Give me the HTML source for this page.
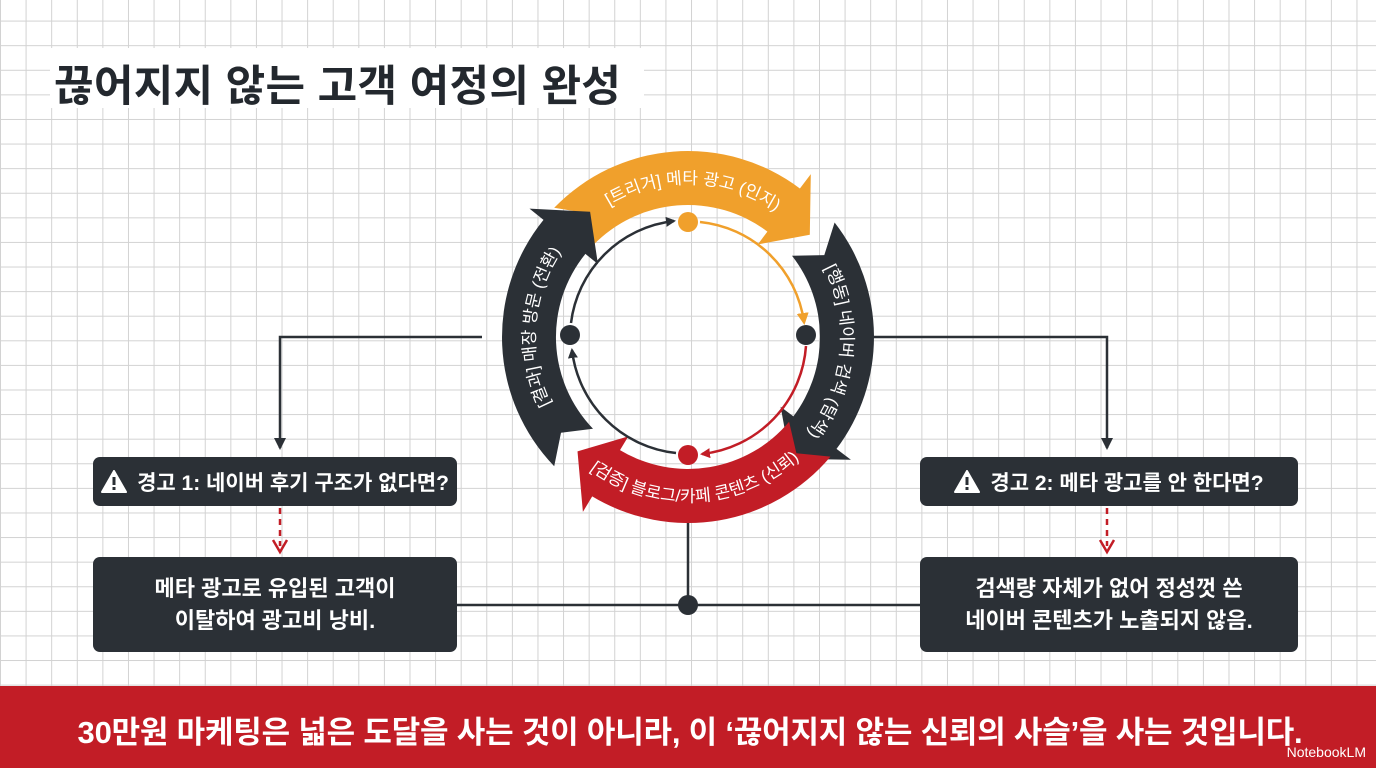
<!DOCTYPE html>
<html><head><meta charset="utf-8">
<style>
html,body{margin:0;padding:0;}
body{width:1376px;height:768px;overflow:hidden;position:relative;font-family:"Liberation Sans","Noto Sans CJK KR",sans-serif;
background-color:#fff;
background-image:linear-gradient(to right,#d2d2d2 1px,transparent 1px),linear-gradient(to bottom,#d2d2d2 1px,transparent 1px);
background-size:25.6px 24.6px;background-position:0px -4px;}
.title{position:absolute;left:50px;top:48px;width:594px;height:60px;background:#fff;}
.title span{position:absolute;left:4px;top:4px;font-size:43px;font-weight:bold;color:#23282e;white-space:nowrap;letter-spacing:0.3px}
.box{position:absolute;background:#2b3036;border-radius:7px;color:#fff;font-weight:bold;display:flex;align-items:center;justify-content:center;text-align:center;}
.warn{font-size:21px;height:49px;}
.warn svg{position:static;margin-right:10px}
.res{font-size:22px;height:95px;line-height:32px;}
.banner{position:absolute;left:0;top:686px;width:1376px;height:82px;background:#c21d26;color:#fff;font-weight:bold;font-size:31px;}
.banner .t{position:absolute;left:0;width:1380px;top:21px;text-align:center;letter-spacing:-0.2px;white-space:nowrap}
.nb{position:absolute;right:10px;bottom:8px;font-size:14px;font-weight:normal;}
svg{position:absolute;left:0;top:0;}
</style></head><body>
<div class="title"><span>끊어지지 않는 고객 여정의 완성</span></div>

<svg id="s" width="1376" height="768" viewBox="0 0 1376 768">
<defs>
<marker id="ad" markerWidth="10" markerHeight="10" refX="8" refY="5" orient="auto" markerUnits="userSpaceOnUse"><path d="M0,0 L10,5 L0,10 Z" fill="#2b3036"/></marker>
<marker id="ar" markerWidth="10" markerHeight="10" refX="8" refY="5" orient="auto" markerUnits="userSpaceOnUse"><path d="M0,0 L10,5 L0,10 Z" fill="#c21d26"/></marker>
<marker id="ao" markerWidth="12" markerHeight="12" refX="9" refY="6" orient="auto" markerUnits="userSpaceOnUse"><path d="M0,0 L12,6 L0,12 Z" fill="#f0a02c"/></marker>
<marker id="ag" markerWidth="12" markerHeight="12" refX="10" refY="6" orient="auto" markerUnits="userSpaceOnUse"><path d="M0,0 L12,6 L0,12 Z" fill="#2b3036"/></marker>
</defs>
<path d="M482,337 H280 V448" fill="none" stroke="#2b3036" stroke-width="2.5" marker-end="url(#ag)"/>
<path d="M872,337 H1107 V448" fill="none" stroke="#2b3036" stroke-width="2.5" marker-end="url(#ag)"/>
<path d="M280,508 V546" fill="none" stroke="#c21d26" stroke-width="2.5" stroke-dasharray="6,5"/>
<path d="M273,540 L280,552 L287,540" fill="none" stroke="#c21d26" stroke-width="2.5"/>
<path d="M1107,508 V546" fill="none" stroke="#c21d26" stroke-width="2.5" stroke-dasharray="6,5"/>
<path d="M1100,540 L1107,552 L1114,540" fill="none" stroke="#c21d26" stroke-width="2.5"/>
<path d="M456,605 H921 M688,605 V520" fill="none" stroke="#2b3036" stroke-width="2.5"/>
<circle cx="688" cy="605" r="10" fill="#2b3036"/>
<g id="arcs"></g>
<path d="M700,222 A117,117 0 0 1 804,322" fill="none" stroke="#f0a02c" stroke-width="2.5" marker-end="url(#ao)"/>
<path d="M806,346 A117,117 0 0 1 702,454" fill="none" stroke="#c21d26" stroke-width="2.5" marker-end="url(#ar)"/>
<path d="M676,453 A117,117 0 0 1 572,350" fill="none" stroke="#2b3036" stroke-width="2.5" marker-end="url(#ad)"/>
<path d="M571,323 A117,117 0 0 1 674,221" fill="none" stroke="#2b3036" stroke-width="2.5" marker-end="url(#ad)"/>
<circle cx="688" cy="222" r="10" fill="#f0a02c"/>
<circle cx="806" cy="335" r="10" fill="#2b3036"/>
<circle cx="688" cy="455" r="10" fill="#c21d26"/>
<circle cx="570" cy="335" r="10" fill="#2b3036"/>
</svg>

<div class="box warn" style="left:93px;top:457px;width:364px;"><svg width="26" height="23" viewBox="0 0 26 23"><path d="M13,1 L25,22 H1 Z" fill="#fff" stroke="#fff" stroke-linejoin="round" stroke-width="2"/><rect x="11.5" y="7" width="3" height="8" fill="#2b3036"/><rect x="11.5" y="17" width="3" height="3" fill="#2b3036"/></svg>경고 1: 네이버 후기 구조가 없다면?</div>
<div class="box res" style="left:93px;top:557px;width:364px;">메타 광고로 유입된 고객이<br>이탈하여 광고비 낭비.</div>
<div class="box warn" style="left:920px;top:457px;width:378px;"><svg width="26" height="23" viewBox="0 0 26 23"><path d="M13,1 L25,22 H1 Z" fill="#fff" stroke="#fff" stroke-linejoin="round" stroke-width="2"/><rect x="11.5" y="7" width="3" height="8" fill="#2b3036"/><rect x="11.5" y="17" width="3" height="3" fill="#2b3036"/></svg>경고 2: 메타 광고를 안 한다면?</div>
<div class="box res" style="left:920px;top:557px;width:378px;">검색량 자체가 없어 정성껏 쓴<br>네이버 콘텐츠가 노출되지 않음.</div>

<div class="banner"><div class="t">30만원 마케팅은 넓은 도달을 사는 것이 아니라, 이 ‘끊어지지 않는 신뢰의 사슬’을 사는 것입니다.</div><div class="nb">NotebookLM</div></div>

<script>
(function(){
var cx=688,cy=337,ri=132,ro=186,rm=(ri+ro)/2;
function P(r,a){a=a*Math.PI/180;return [(cx+r*Math.cos(a)).toFixed(1),(cy+r*Math.sin(a)).toFixed(1)];}
var ns="http://www.w3.org/2000/svg";
function arrow(a0,a1,col,text,tid,rev){
 var hb=a1-13;
 var s=P(ro,a0),e=P(ro,hb),h1=P(ro+18,hb),tip=P(rm,a1),h2=P(ri-16,hb),b=P(ri,hb),b0=P(ri,a0);
 var n=P(rm,a0+7);
 var d="M"+s+" A"+ro+","+ro+" 0 0 1 "+e+" L"+h1+" L"+tip+" L"+h2+" L"+b+" A"+ri+","+ri+" 0 0 0 "+b0+" L"+n+" Z";
 var g=document.getElementById('arcs');
 var path=document.createElementNS(ns,'path');path.setAttribute('d',d);path.setAttribute('fill',col);g.appendChild(path);
 var tp=document.createElementNS(ns,'path');
 var m0=a0-10,m1=a1+10,tr;
 if(rev){tr=rm+6;tp.setAttribute('d',"M"+P(tr,m1)+" A"+tr+","+tr+" 0 0 0 "+P(tr,m0));}
 else{tr=rm-6;tp.setAttribute('d',"M"+P(tr,m0)+" A"+tr+","+tr+" 0 0 1 "+P(tr,m1));}
 tp.setAttribute('id',tid);tp.setAttribute('fill','none');g.appendChild(tp);
 var t=document.createElementNS(ns,'text');t.setAttribute('fill','#fff');t.setAttribute('font-size','17');t.setAttribute('font-family','"Liberation Sans","Noto Sans CJK KR",sans-serif');
 var tx=document.createElementNS(ns,'textPath');tx.setAttribute('href','#'+tid);tx.setAttribute('startOffset','50%');tx.setAttribute('text-anchor','middle');tx.textContent=text;t.appendChild(tx);g.appendChild(t);
}
arrow(224,320,'#f0a02c','[트리거] 메타 광고 (인지)','t1',false);
arrow(322,50,'#2b3036','[행동] 네이버 검색 (탐색)','t2',false);
arrow(40,134,'#c21d26','[검증] 블로그/카페 콘텐츠 (신뢰)','t3',true);
arrow(136,232,'#2b3036','[결과] 매장 방문 (전환)','t4',false);
})();
</script>
</body></html>
